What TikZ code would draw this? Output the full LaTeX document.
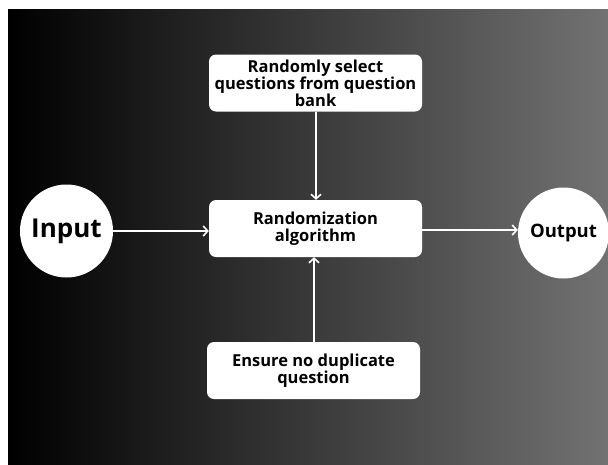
\documentclass[tikz,border=0pt]{standalone}
\usepackage{fontspec}
\setmainfont{Open Sans}
\usetikzlibrary{arrows.meta}
\begin{document}
\begin{tikzpicture}[x=1pt,y=-1pt,
  box/.style={draw=none,fill=white,rounded corners=7pt,minimum width=213pt,minimum height=57pt,align=center,font=\fontsize{16.5}{16.5}\selectfont\bfseries,inner sep=0pt},
  circ/.style={circle,fill=white,inner sep=0pt,font=\bfseries},
  conn/.style={draw=white,line width=1.6pt,-{Straight Barb[length=4.5pt,width=10pt,line width=1.6pt]}}]
\useasboundingbox (0,0) rectangle (608,464);
\fill[white] (0,0) rectangle (608,464);
\shade[left color=black,right color={rgb,255:red,114;green,114;blue,114}] (8,9) rectangle (608,464);
\node[box] (top) at (315.5,83) {Randomly select\\questions from question\\bank};
\node[box] (mid) at (315.5,228.5) {Randomization\\algorithm};
\node[box] (bot) at (313.5,370.5) {Ensure no duplicate\\question};
\node[circ,minimum size=93pt,font=\fontsize{26}{26}\selectfont\bfseries] (in) at (66.5,231) {Input};
\node[circ,minimum size=91pt,font=\fontsize{18.5}{18.5}\selectfont\bfseries] (out) at (563.5,233) {Output};
\draw[conn] (in.east) -- (mid.west |- in.east);
\draw[conn] (mid.east |- 0,230) -- (out.west |- 0,230);
\draw[conn] (top.south -| 316,0) -- (mid.north -| 316,0);
\draw[conn] (bot.north -| 314,0) -- (mid.south -| 314,0);
\end{tikzpicture}
\end{document}
